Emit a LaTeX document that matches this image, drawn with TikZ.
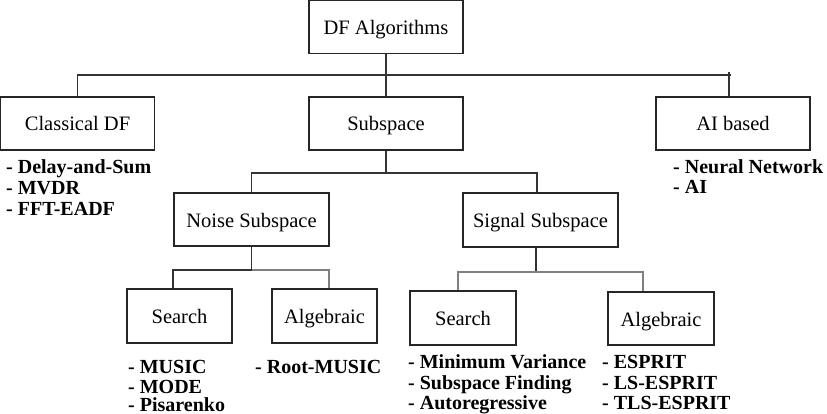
\documentclass[tikz,border=0pt]{standalone}
\usepackage{fontspec}
\setmainfont{Liberation Serif}
\begin{document}
\begin{tikzpicture}[x=1pt,y=-1pt,
  box/.style={draw=black!85,line width=1.3pt,inner sep=0pt,align=center,
    text height=20pt,text depth=5pt,
    font=\fontsize{20.5}{24}\selectfont},
  bigbox/.style={box,minimum width=154pt,minimum height=53pt},
  smallbox/.style={box,minimum width=105pt,minimum height=54pt},
  item/.style={anchor=base west,inner sep=0pt,font=\bfseries\fontsize{20}{20}\selectfont},
  link/.style={draw=black!80,line width=1.2pt},
  lightlink/.style={draw=black!50,line width=1.2pt}]
\useasboundingbox (0,0) rectangle (827,414);

% boxes
\node[bigbox] (df) at (386,27) {DF Algorithms};
\node[bigbox,minimum width=154pt] (classical) at (77.5,123.5) {Classical DF};
\node[bigbox] (subspace) at (386,123.5) {Subspace};
\node[bigbox] (ai) at (733,123.5) {AI based};
\node[bigbox,minimum width=155pt] (noise) at (251.5,219.5) {Noise Subspace};
\node[bigbox,minimum width=155pt,minimum height=54pt] (signal) at (540.5,220) {Signal Subspace};
\node[smallbox] (nsearch) at (179.5,316) {Search};
\node[smallbox] (nalg) at (324.5,316) {Algebraic};
\node[smallbox,minimum width=106pt] (ssearch) at (463,318) {Search};
\node[smallbox,minimum width=106pt,minimum height=53pt] (salg) at (661,318.5) {Algebraic};

% connectors
\coordinate (bus1end) at (731,75);
\draw[link] (df.south) -- (subspace.north);
\draw[link] (classical.north) |- (bus1end);
\draw[link] ([xshift=-4pt]ai.north) -- ++(0,-24);

\coordinate (bus2) at (386,173);
\draw[link] (subspace.south) -- (bus2);
\draw[link] (noise.north) |- (bus2);
\draw[link] ([xshift=-3.5pt]signal.north) |- (bus2);

\coordinate (bus3) at (251.5,270);
\draw[link] (noise.south) -- (bus3);
\draw[link] ([xshift=-6.5pt]nsearch.north) |- (bus3);
\draw[lightlink] ([xshift=4.5pt]nalg.north) |- (bus3);

\coordinate (bus4) at (536,272);
\draw[link] ([xshift=-4.5pt]signal.south) -- (bus4);
\draw[lightlink] ([xshift=-5pt]ssearch.north) |- (bus4);
\draw[lightlink] (bus4) -| ([xshift=-18pt]salg.north);

% lists
\node[item] (c1) at (6,174) {- Delay-and-Sum};
\node[item] (c2) at (6,195) {- MVDR};
\node[item] (c3) at (6,215) {- FFT-EADF};

\node[item] (a1) at (673,174) {- Neural Network};
\node[item] (a2) at (673,194) {- AI};

\node[item] (m1) at (128,373) {- MUSIC};
\node[item] (m2) at (128,393) {- MODE};
\node[item] (m3) at (128,411.5) {- Pisarenko};

\node[item] (r1) at (255,373) {- Root-MUSIC};

\node[item] (s1) at (408,368) {- Minimum Variance};
\node[item] (s2) at (408,389) {- Subspace Finding};
\node[item] (s3) at (408,409) {- Autoregressive};

\node[item] (e1) at (602,368) {- ESPRIT};
\node[item] (e2) at (602,389) {- LS-ESPRIT};
\node[item] (e3) at (602,409) {- TLS-ESPRIT};
\end{tikzpicture}
\end{document}
